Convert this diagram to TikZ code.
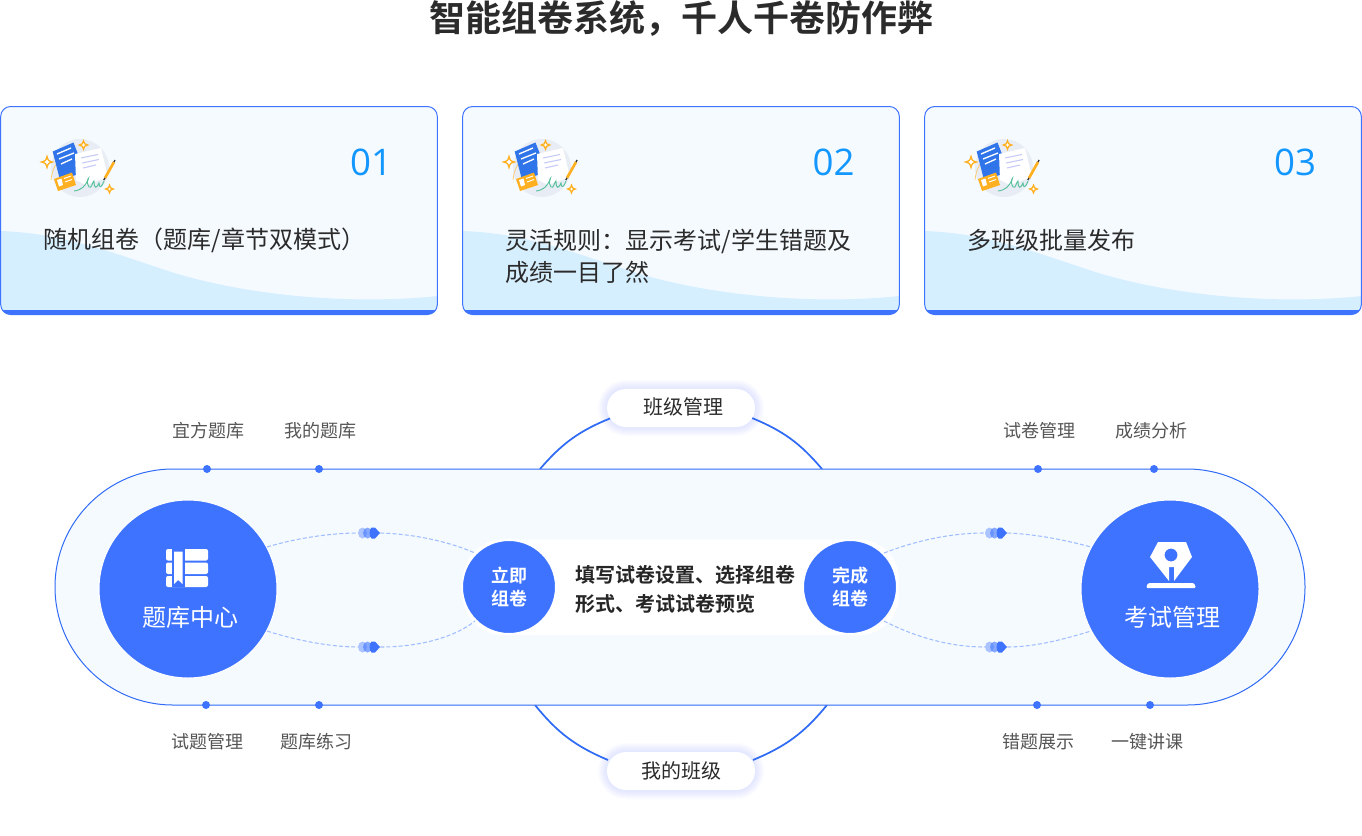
\documentclass[tikz,border=0pt]{standalone}
\usepackage{fontspec}
\setmainfont{Noto Sans CJK SC}[BoldFont={Noto Sans CJK SC Bold}]
\newfontfamily\numfont{Open Sans}
\definecolor{brand}{HTML}{3D73FF}
\definecolor{linecol}{HTML}{2F6BF5}
\definecolor{panel}{HTML}{F5FAFF}
\definecolor{wave}{HTML}{D6EFFF}
\definecolor{numcol}{HTML}{1296FF}
\definecolor{txt}{HTML}{2B2B2B}
\definecolor{lab}{HTML}{555555}
\definecolor{dashcol}{HTML}{A0BEFF}
\definecolor{spark}{HTML}{FFB020}
\definecolor{iconbg}{HTML}{E8ECF4}
\definecolor{docblue}{HTML}{2F74E8}
\definecolor{signcol}{HTML}{55C09A}
\tikzset{
  x=0.75pt,y=-0.75pt,
  cardframe/.style={draw=brand,line width=0.75pt,rounded corners=7.5pt,minimum width=327.5pt,minimum height=156pt,inner sep=0pt},
  cardtext/.style={anchor=west,inner sep=0pt,align=left,text=txt,font=\fontsize{18}{24}\selectfont},
  numtext/.style={inner sep=0pt,text=numcol,font=\numfont\fontsize{27.5}{30}\selectfont},
  smalllab/.style={inner sep=0pt,text=lab,font=\fontsize{13.5}{16}\selectfont},
  pilltext/.style={inner sep=0pt,text=txt,font=\fontsize{15}{18}\selectfont},
  dotmark/.style={circle,fill=brand,minimum size=6pt,inner sep=0pt},
  bigcirc/.style={circle,fill=brand,draw=white,line width=0.75pt,minimum size=133.5pt,inner sep=0pt},
  smallcirc/.style={circle,fill=brand,draw=white,line width=1.5pt,minimum size=70.5pt,inner sep=0pt,align=center,text=white,font=\bfseries\fontsize{13.5}{17.25}\selectfont},
  circletext/.style={inner sep=0pt,text=white,font=\fontsize{18}{22}\selectfont},
  dashline/.style={draw=dashcol,line width=0.8pt,dash pattern=on 3pt off 1.6pt},
  arcline/.style={draw=linecol,line width=1.3pt},
  pillbox/.style={fill=white,rounded corners=14.25pt,minimum width=111pt,minimum height=28.5pt,inner sep=0pt},
  markhold/.style={minimum width=16.5pt,minimum height=7.5pt,inner sep=0pt},
  sparkline/.style={draw=spark,line width=0.95pt,fill=white}
}
\newcommand{\sparkle}[3]{%
  \begin{scope}[shift={(#1,#2)},scale=#3]
    \path[sparkline] (-1,0) .. controls (-.25,-.2) and (-.2,-.25) .. (0,-1) .. controls (.2,-.25) and (.25,-.2) .. (1,0) .. controls (.25,.2) and (.2,.25) .. (0,1) .. controls (-.2,.25) and (-.25,.2) .. (-1,0) -- cycle;
  \end{scope}}
\newcommand{\cardback}[1]{%
  \begin{scope}[shift={(#1,0)}]
    \begin{scope}
      \clip[rounded corners=7.5pt] (0.5,106.5) rectangle (437.5,314.5);
      \fill[panel] (0,106) rectangle (438,315);
      \fill[wave] (0,231) .. controls (60,233) and (105,250) .. (165,270) .. controls (235,293) and (340,306) .. (438,296) -- (438,315) -- (0,315) -- cycle;
      \fill[brand] (0,310) rectangle (438,315);
    \end{scope}
    % illustration
    \fill[iconbg] (80,168) circle[radius=29];
    \draw[spark!70!white,line width=0.5pt] (51,180) .. controls (52,168) and (58,160) .. (64,156);
    \fill[docblue] (52.7,151.5) -- (73.5,142.5) -- (85,172) -- (60,180) -- cycle;
    \draw[white,line width=1pt] (57,154) -- (71,148) (59,159) -- (74,153) (61,164) -- (72,159);
    \fill[white] (75,154) -- (101,148) -- (108,177) -- (86,185) -- (76,180) -- cycle;
    \draw[iconbg!85!blue,line width=0.8pt] (81,158) -- (98,154.5) (82,163) -- (99,159.5) (83,168) -- (96,165);
    \fill[spark] (54,179) -- (72,172.5) -- (76,185) -- (58,191) -- cycle;
    \fill[white] (57,180) -- (61.5,178.5) -- (63,185) -- (59,186.5) -- cycle;
    \draw[white,line width=0.7pt] (64,178.5) -- (71,176) (65,182) -- (72,179.5);
    \draw[signcol,line width=0.7pt] (74,191) .. controls (82,190) and (85,186) .. (88,180) .. controls (90,176) and (85,180) .. (89,187) .. controls (92,189) and (92,182) .. (94,181) .. controls (94,190) and (97,188) .. (99,183) .. controls (99,189) and (102,187) .. (104,181);
    \draw[spark,line width=2pt] (105,178) -- (114,162);
    \draw[black!80,line width=1pt] (103.8,180) -- (105,178) (114,162) -- (115,160);
    \sparkle{47}{162}{5.5}
    \sparkle{83.5}{145}{4.2}
    \sparkle{109.5}{189}{3.8}
  \end{scope}}
\newcommand{\movemark}[2]{%
  \fill[brand,opacity=0.4] (#1-6.5,#2) ellipse[x radius=4.5,y radius=5.5];
  \fill[brand,opacity=0.6] (#1-1.5,#2) ellipse[x radius=4.5,y radius=5.5];
  \fill[brand] (#1+2.5,#2-5.5) -- (#1+6,#2-5.5) -- (#1+11,#2) -- (#1+6,#2+5.5) -- (#1+2.5,#2+5.5) .. controls (#1,#2+4) and (#1,#2-4) .. (#1+2.5,#2-5.5) -- cycle;}
\begin{document}
\begin{tikzpicture}
\useasboundingbox (0,0) rectangle (1362,835);
\fill[white] (0,0) rectangle (1362,835);

\node[inner sep=0pt,text=txt,font=\bfseries\fontsize{27}{32}\selectfont] (title) at (681,19) {智能组卷系统，千人千卷防作弊};

% cards
\cardback{0}\cardback{462}\cardback{924}
\node[cardframe] (card1) at (219,210.5) {};
\node[cardframe] (card2) at (681,210.5) {};
\node[cardframe] (card3) at (1143,210.5) {};
\node[numtext] (n1) at (371,162) {01};
\node[numtext] (n2) at (833.5,162) {02};
\node[numtext] (n3) at (1295,162) {03};
\node[cardtext] (t1) at (43.5,240) {随机组卷（题库/章节双模式）};
\node[cardtext] (t2) at (505.5,256) {灵活规则：显示考试/学生错题及\\成绩一目了然};
\node[cardtext] (t3) at (967.5,240) {多班级批量发布};

% arcs behind pills and band
\coordinate (atl) at (540,469);
\coordinate (atr) at (822,469);
\coordinate (abl) at (535,705);
\coordinate (abr) at (827,705);
\coordinate (ptl) at (611,418);
\coordinate (ptr) at (752,418);
\coordinate (pbl) at (608,760);
\coordinate (pbr) at (753,760);
\draw[arcline] (atl) to[bend left=13.6] (ptl);
\draw[arcline] (ptr) to[bend left=13.6] (atr);
\draw[arcline] (abl) to[bend right=14] (pbl);
\draw[arcline] (pbr) to[bend right=14] (abr);

% pills with soft glow
\foreach \g in {9,8,7,6,5,4,3,2,1}{
  \pgfmathsetmacro{\r}{14.25+0.75*\g}
  \fill[brand,opacity=0.014,rounded corners=\r pt] (607-\g,389-\g) rectangle (755+\g,427+\g);
  \fill[brand,opacity=0.014,rounded corners=\r pt] (607-\g,752-\g) rectangle (755+\g,790+\g);
}
\node[pillbox] (ptop) at (681,408) {};
\node[pillbox] (pbot) at (681,771) {};
\node[pilltext] at (ptop.center) [xshift=1.5pt,yshift=0.7pt] (ptoptext) {班级管理};
\node[pilltext] at (pbot.center) (pbottext) {我的班级};

% band
\node[draw=linecol,fill=panel,line width=0.75pt,rounded corners=88.5pt,minimum width=937.5pt,minimum height=177pt,inner sep=0pt] (band) at (680,587) {};

% white strip behind centre
\fill[white,rounded corners=30pt] (463,539.5) rectangle (899,635);

% dots and labels
\node[dotmark] (d1) at (207,469) {};
\node[dotmark] (d2) at (319,469) {};
\node[dotmark] (d3) at (1038,469) {};
\node[dotmark] (d4) at (1154,469) {};
\node[dotmark] (d5) at (206,705) {};
\node[dotmark] (d6) at (319,705) {};
\node[dotmark] (d7) at (1037,705) {};
\node[dotmark] (d8) at (1150,705) {};
\node[smalllab] (l1) at (208.5,431) {宜方题库};
\node[smalllab] (l2) at (320.5,431) {我的题库};
\node[smalllab] (l3) at (1039.5,431) {试卷管理};
\node[smalllab] (l4) at (1151.5,431) {成绩分析};
\node[smalllab] (l5) at (207,742) {试题管理};
\node[smalllab] (l6) at (316,742) {题库练习};
\node[smalllab] (l7) at (1038.5,742) {错题展示};
\node[smalllab] (l8) at (1147.5,742) {一键讲课};

% main circles
\node[bigcirc] (lib) at (188,589) {};
\node[bigcirc] (exam) at (1170,589) {};
\node[circletext] (libt) at (190,617) {题库中心};
\node[circletext] (examt) at (1172,617) {考试管理};
\node[smallcirc] (s1) at (509,587) {立即\\组卷};
\node[smallcirc] (s2) at (850,587) {完成\\组卷};
\node[anchor=west,inner sep=0pt,align=left,text=black!85,font=\bfseries\fontsize{15}{21.75}\selectfont] (mid) at (575,589) {填写试卷设置、选择组卷\\形式、考试试卷预览};

% marker holders
\node[markhold] (m1) at (369,533) {};
\node[markhold] (m2) at (369,647) {};
\node[markhold] (m3) at (996,533) {};
\node[markhold] (m4) at (996,647) {};

% dashed connectors
\draw[dashline] (lib.28) .. controls (300,537) and (335,533) .. (m1.west);
\draw[dashline] (m1.east) .. controls (415,534) and (450,542) .. (s1.135);
\draw[dashline] (lib.-28) .. controls (295,640) and (330,647) .. (m2.west);
\draw[dashline] (m2.east) .. controls (420,647) and (455,637) .. (s1.-135);
\draw[dashline] (s2.45) .. controls (915,541) and (950,533) .. (m3.west);
\draw[dashline] (m3.east) .. controls (1035,534) and (1065,540) .. (exam.152);
\draw[dashline] (s2.-45) .. controls (915,637) and (950,647) .. (m4.west);
\draw[dashline] (m4.east) .. controls (1035,647) and (1065,639) .. (exam.-152);
\movemark{369}{533}
\movemark{369}{647}
\movemark{996}{533}
\movemark{996}{647}

% book icon
\fill[white,rounded corners=1.5pt] (166,549) rectangle (208,560.5);
\fill[white,rounded corners=1.5pt] (166,562.5) rectangle (208,574);
\fill[white,rounded corners=1.5pt] (166,576) rectangle (208,587);
\fill[brand] (172,549) rectangle (184.5,587);
\fill[white] (174,551.5) -- (182.5,551.5) -- (182.5,584) -- (178.2,580) -- (174,584) -- cycle;

% pen icon
\fill[white,even odd rule] (1158,542) -- (1186,542) -- (1192,557) -- (1174,581) -- (1174,567) -- (1169,567) -- (1169,581) -- (1150,557) -- cycle (1171,555) circle[radius=6.5];
\fill[white,rounded corners=1pt] (1146,588) -- (1148,583) -- (1194,583) -- (1196,588) -- cycle;
\end{tikzpicture}
\end{document}
